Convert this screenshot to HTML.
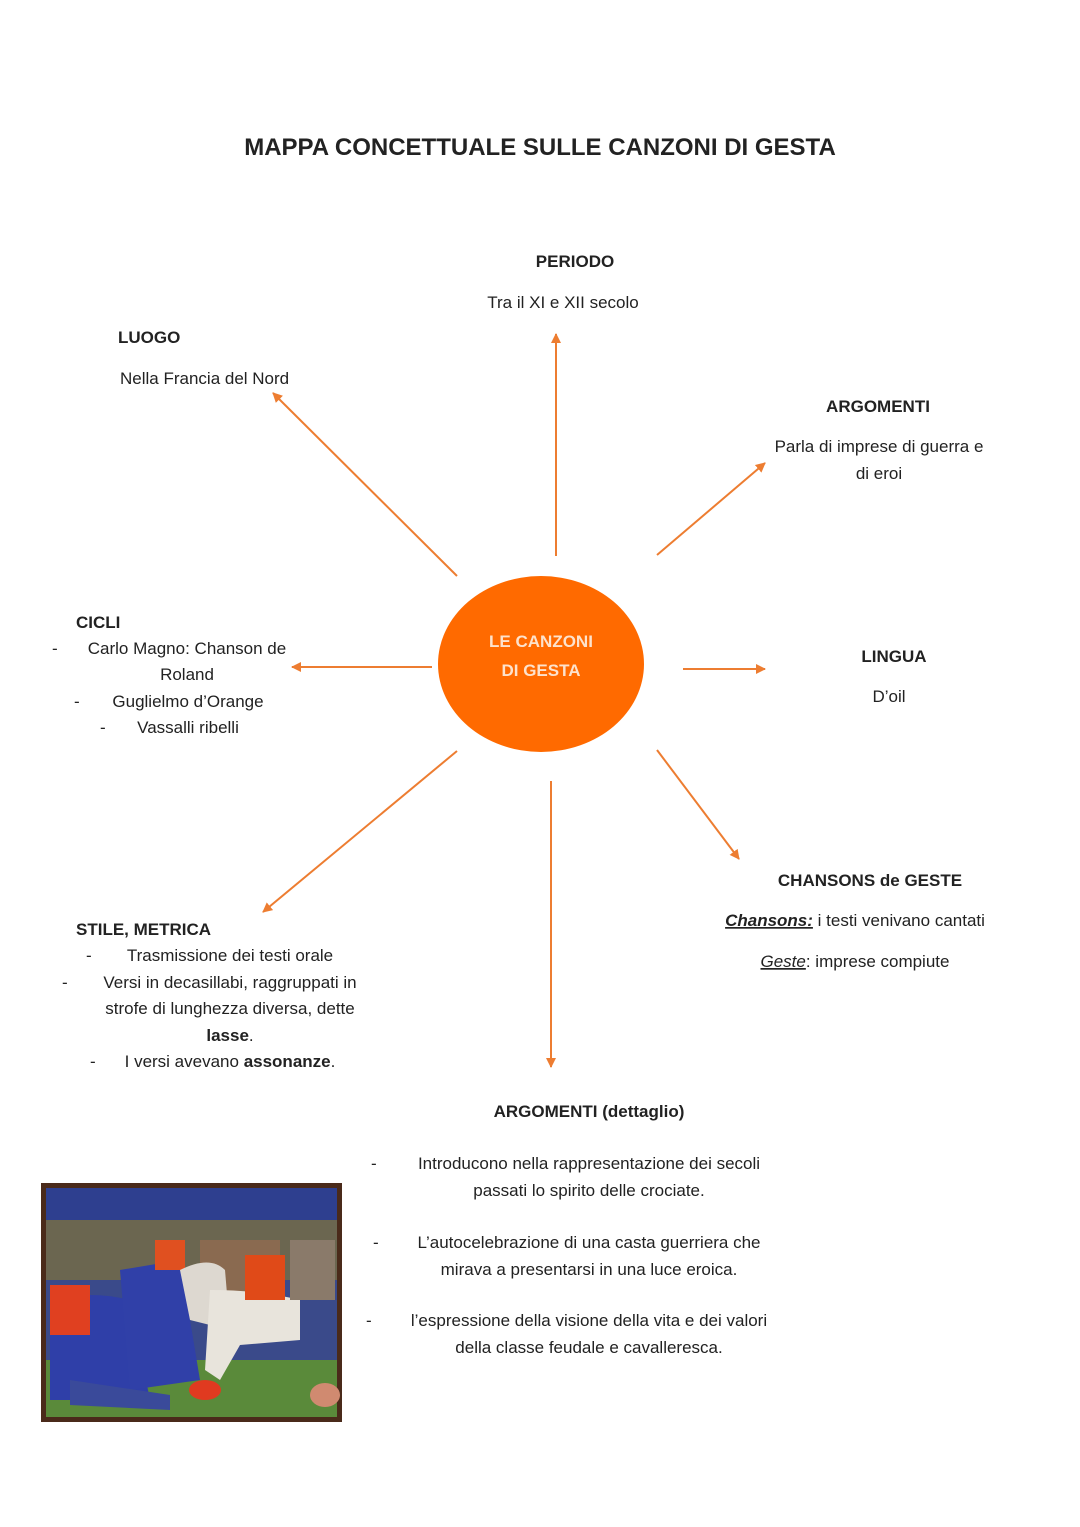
<!DOCTYPE html>
<html><head><meta charset="utf-8">
<style>
html,body{margin:0;padding:0;background:#fff;}
body{width:1080px;height:1527px;position:relative;overflow:hidden;font-family:"Liberation Sans",sans-serif;color:#222;}
svg{position:absolute;left:0;top:0;}
text{font-family:"Liberation Sans",sans-serif;font-size:17px;fill:#222;}
.b{font-weight:bold;}
</style></head><body>
<svg width="1080" height="1527" viewBox="0 0 1080 1527">
<defs>
<marker id="ah" markerWidth="10" markerHeight="10" refX="9" refY="5" orient="auto" markerUnits="userSpaceOnUse">
<path d="M0,0 L10,5 L0,10 z" fill="#ED7D31"/></marker>
</defs>
<text x="540" y="155" text-anchor="middle" class="b" style="font-size:24px">MAPPA CONCETTUALE SULLE CANZONI DI GESTA</text>

<g stroke="#ED7D31" stroke-width="2" marker-end="url(#ah)">
<line x1="556" y1="556" x2="556" y2="334"/>
<line x1="457" y1="576" x2="273" y2="393"/>
<line x1="657" y1="555" x2="765" y2="463"/>
<line x1="432" y1="667" x2="292" y2="667"/>
<line x1="683" y1="669" x2="765" y2="669"/>
<line x1="457" y1="751" x2="263" y2="912"/>
<line x1="657" y1="750" x2="739" y2="859"/>
<line x1="551" y1="781" x2="551" y2="1067"/>
</g>

<ellipse cx="541" cy="664" rx="103" ry="88" fill="#FF6A00"/>
<text x="541" y="647" text-anchor="middle" class="b" style="fill:#fde2cc;font-size:17px">LE CANZONI</text>
<text x="541" y="676" text-anchor="middle" class="b" style="fill:#fde2cc;font-size:17px">DI GESTA</text>

<text x="575" y="267" text-anchor="middle" class="b">PERIODO</text>
<text x="563" y="308" text-anchor="middle">Tra il XI e XII secolo</text>

<text x="118" y="343" class="b">LUOGO</text>
<text x="120" y="384">Nella Francia del Nord</text>

<text x="878" y="412" text-anchor="middle" class="b">ARGOMENTI</text>
<text x="879" y="452" text-anchor="middle">Parla di imprese di guerra e</text>
<text x="879" y="479" text-anchor="middle">di eroi</text>

<text x="76" y="628" class="b">CICLI</text>
<text x="52" y="654">-</text>
<text x="187" y="654" text-anchor="middle">Carlo Magno: Chanson de</text>
<text x="187" y="680" text-anchor="middle">Roland</text>
<text x="74" y="707">-</text>
<text x="188" y="707" text-anchor="middle">Guglielmo d’Orange</text>
<text x="100" y="733">-</text>
<text x="188" y="733" text-anchor="middle">Vassalli ribelli</text>

<text x="894" y="662" text-anchor="middle" class="b">LINGUA</text>
<text x="889" y="702" text-anchor="middle">D’oil</text>

<text x="870" y="886" text-anchor="middle" class="b">CHANSONS de GESTE</text>
<text x="855" y="926" text-anchor="middle"><tspan class="b" font-style="italic" text-decoration="underline">Chansons:</tspan> i testi venivano cantati</text>
<text x="855" y="967" text-anchor="middle"><tspan font-style="italic" text-decoration="underline">Geste</tspan>: imprese compiute</text>

<text x="76" y="935" class="b">STILE, METRICA</text>
<text x="86" y="961">-</text>
<text x="230" y="961" text-anchor="middle">Trasmissione dei testi orale</text>
<text x="62" y="988">-</text>
<text x="230" y="988" text-anchor="middle">Versi in decasillabi, raggruppati in</text>
<text x="230" y="1014" text-anchor="middle">strofe di lunghezza diversa, dette</text>
<text x="230" y="1041" text-anchor="middle"><tspan class="b">lasse</tspan>.</text>
<text x="90" y="1067">-</text>
<text x="230" y="1067" text-anchor="middle">I versi avevano <tspan class="b">assonanze</tspan>.</text>

<text x="589" y="1117" text-anchor="middle" class="b">ARGOMENTI (dettaglio)</text>
<text x="371" y="1169">-</text>
<text x="589" y="1169" text-anchor="middle">Introducono nella rappresentazione dei secoli</text>
<text x="589" y="1196" text-anchor="middle">passati lo spirito delle crociate.</text>
<text x="373" y="1248">-</text>
<text x="589" y="1248" text-anchor="middle">L’autocelebrazione di una casta guerriera che</text>
<text x="589" y="1275" text-anchor="middle">mirava a presentarsi in una luce eroica.</text>
<text x="366" y="1326">-</text>
<text x="589" y="1326" text-anchor="middle">l’espressione della visione della vita e dei valori</text>
<text x="589" y="1353" text-anchor="middle">della classe feudale e cavalleresca.</text>

<!-- painting -->
<g>
<rect x="41" y="1183" width="301" height="239" fill="#4a2a1a"/>
<rect x="46" y="1188" width="291" height="229" fill="#3a4a8a"/>
<rect x="46" y="1188" width="291" height="40" fill="#2e3f8f"/>
<rect x="46" y="1220" width="291" height="60" fill="#6b6650"/>
<rect x="46" y="1360" width="291" height="57" fill="#5a8a3a"/>
<rect x="200" y="1240" width="80" height="80" fill="#8a6a50"/>
<path d="M50,1300 Q90,1290 130,1300 L150,1400 L50,1400 z" fill="#2f3fa8"/>
<path d="M120,1270 L180,1260 L200,1380 L130,1390 z" fill="#3040a8"/>
<rect x="50" y="1285" width="40" height="50" fill="#e04020"/>
<rect x="155" y="1240" width="30" height="30" fill="#e05020"/>
<path d="M180,1270 Q210,1255 225,1270 L230,1330 L190,1320 z" fill="#ddd8d0"/>
<path d="M210,1290 Q260,1290 300,1300 L300,1340 L240,1345 L220,1380 L205,1370 z" fill="#e8e4dc"/>
<rect x="245" y="1255" width="40" height="45" fill="#e04a18"/>
<rect x="290" y="1240" width="45" height="60" fill="#8a7a6a"/>
<ellipse cx="205" cy="1390" rx="16" ry="10" fill="#e03a20"/>
<path d="M70,1380 L170,1395 L170,1410 L70,1405 z" fill="#3a4a9a"/>
<ellipse cx="325" cy="1395" rx="15" ry="12" fill="#d08a70"/>
</g>
</svg>
</body></html>
